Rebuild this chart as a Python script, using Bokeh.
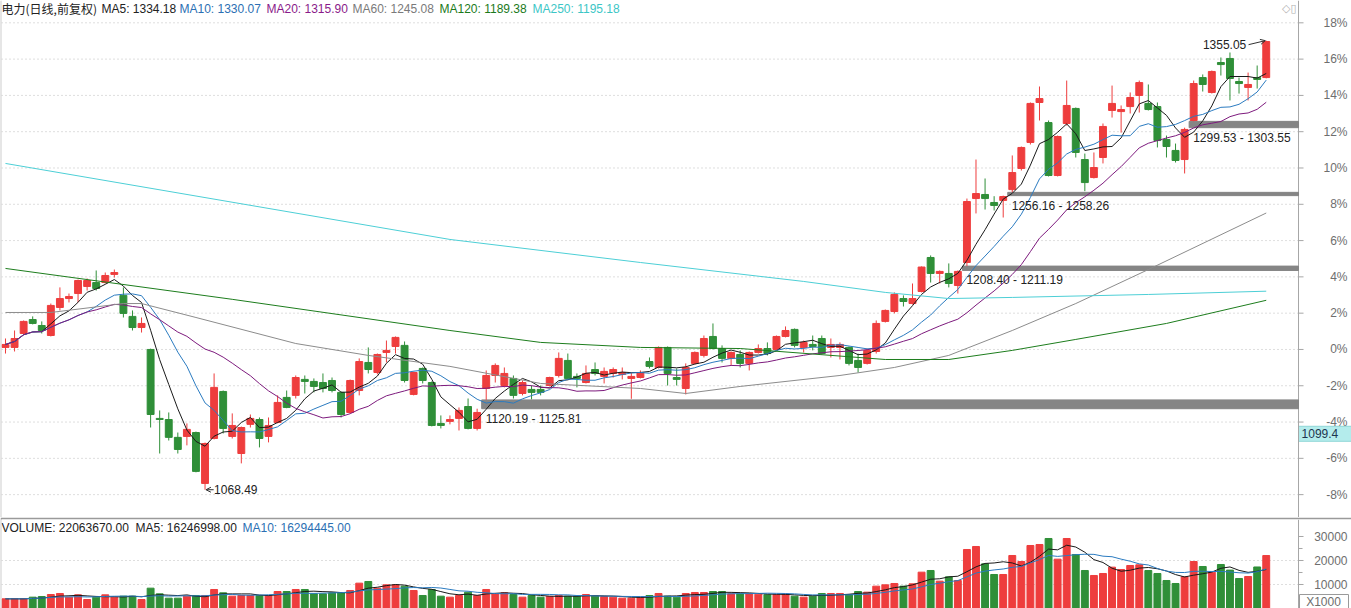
import numpy as np
import pandas as pd
from bokeh.plotting import figure
from bokeh.layouts import column
from bokeh.models import Range1d, ColumnDataSource, Arrow, OpenHead
from bokeh.embed import file_html
from bokeh.resources import INLINE
from bokeh.core.properties import value

# ---------------- data ----------------
BASE = 1158.0  # price that corresponds to 0 %

opens = [
    1159.3, 1159.3, 1168.2, 1177.1, 1173.3, 1166.9, 1184.8, 1190.5, 1193.7, 1198.2,
    1200.7, 1200.7, 1205.9, 1192.5, 1179.1, 1172.0, 1158.0, 1114.0, 1113.3, 1101.9,
    1102.5, 1105.0, 1072.5, 1101.2, 1131.2, 1102.5, 1091.6, 1110.2, 1113.3, 1102.5,
    1111.4, 1127.4, 1128.7, 1138.9, 1137.6, 1136.9, 1138.2, 1130.6, 1117.8, 1131.8,
    1149.7, 1143.3, 1156.1, 1159.9, 1160.6, 1129.3, 1145.9, 1136.9, 1110.8, 1112.1,
    1114.0, 1121.6, 1107.6, 1133.1, 1141.4, 1135.0, 1139.5, 1129.9, 1132.5, 1132.5,
    1135.0, 1141.4, 1151.0, 1140.8, 1136.9, 1145.2, 1140.8, 1142.7, 1142.1, 1139.5,
    1140.1, 1150.3, 1146.5, 1159.3, 1140.1, 1133.1, 1149.1, 1154.2, 1166.3, 1158.6,
    1152.3, 1154.8, 1149.1, 1156.1, 1158.6, 1158.0, 1166.3, 1170.8, 1159.3, 1161.2,
    1165.0, 1159.3, 1159.3, 1159.3, 1151.0, 1149.1, 1156.7, 1175.9, 1182.2, 1190.5,
    1187.3, 1195.0, 1216.7, 1206.5, 1206.5, 1198.8, 1213.5, 1254.3, 1256.9, 1251.8,
    1253.1, 1260.0, 1273.5, 1290.1, 1315.6, 1302.8, 1269.0, 1302.2, 1311.8, 1279.2,
    1267.7, 1280.5, 1310.5, 1309.8, 1313.0, 1320.1, 1315.0, 1313.0, 1292.0, 1285.0,
    1279.2, 1304.1, 1331.5, 1322.0, 1341.1, 1343.7, 1329.0, 1325.2, 1331.5, 1331.5,
]
highs = [
    1165.0, 1170.1, 1176.5, 1179.1, 1175.9, 1187.3, 1197.6, 1193.7, 1202.6, 1203.3,
    1208.4, 1207.1, 1209.0, 1197.6, 1182.9, 1178.4, 1158.5, 1119.1, 1117.8, 1105.0,
    1110.8, 1105.6, 1098.6, 1142.7, 1131.8, 1117.2, 1108.8, 1116.5, 1114.6, 1114.6,
    1128.7, 1131.8, 1141.4, 1141.4, 1139.5, 1142.7, 1140.1, 1131.2, 1138.8, 1152.3,
    1159.3, 1155.4, 1163.7, 1166.3, 1163.1, 1143.9, 1146.5, 1137.6, 1115.9, 1115.9,
    1121.0, 1126.7, 1120.19, 1144.6, 1149.1, 1146.5, 1141.4, 1138.2, 1135.0, 1135.0,
    1140.6, 1156.1, 1155.4, 1142.7, 1147.8, 1149.7, 1146.5, 1146.5, 1146.5, 1143.3,
    1144.6, 1152.9, 1159.9, 1159.9, 1145.9, 1149.1, 1156.7, 1166.9, 1174.6, 1160.6,
    1156.7, 1157.4, 1156.7, 1161.2, 1162.5, 1166.9, 1172.7, 1171.4, 1163.7, 1166.9,
    1166.9, 1165.0, 1162.5, 1159.9, 1155.4, 1158.6, 1176.5, 1183.5, 1194.4, 1192.5,
    1200.1, 1211.0, 1218.0, 1208.4, 1212.9, 1208.40, 1254.3, 1279.2, 1267.1, 1255.8,
    1256.16, 1281.8, 1287.5, 1315.6, 1325.8, 1304.1, 1294.5, 1329.6, 1312.4, 1283.0,
    1283.7, 1302.2, 1326.4, 1313.7, 1322.0, 1329.6, 1327.1, 1315.6, 1294.5, 1289.4,
    1299.53, 1329.6, 1333.5, 1336.0, 1344.3, 1347.5, 1331.5, 1334.7, 1339.2, 1355.05,
]
lows = [
    1155.4, 1156.7, 1167.6, 1174.0, 1168.2, 1166.3, 1182.9, 1188.0, 1188.0, 1195.6,
    1195.6, 1200.1, 1203.9, 1178.4, 1170.1, 1168.8, 1108.2, 1091.6, 1099.9, 1091.6,
    1096.8, 1079.6, 1068.49, 1100.6, 1104.4, 1101.2, 1085.3, 1108.2, 1095.5, 1098.7,
    1110.8, 1120.5, 1126.7, 1129.9, 1130.6, 1130.6, 1130.6, 1114.6, 1117.2, 1128.7,
    1142.7, 1142.1, 1149.7, 1155.4, 1136.9, 1128.7, 1136.3, 1108.9, 1107.6, 1110.2,
    1106.3, 1107.0, 1106.3, 1125.81, 1136.9, 1133.8, 1126.7, 1128.7, 1126.2, 1128.7,
    1134.4, 1140.1, 1138.9, 1133.8, 1136.3, 1141.4, 1136.3, 1140.1, 1138.9, 1126.5,
    1139.5, 1145.9, 1145.9, 1135.0, 1135.0, 1129.3, 1148.4, 1152.9, 1158.0, 1149.7,
    1147.8, 1146.5, 1144.6, 1155.4, 1154.2, 1157.4, 1165.7, 1159.3, 1156.1, 1157.4,
    1154.8, 1152.9, 1151.6, 1147.8, 1143.3, 1148.4, 1155.4, 1175.2, 1181.0, 1185.4,
    1186.7, 1194.4, 1200.7, 1200.1, 1197.6, 1193.7, 1211.19, 1244.8, 1247.3, 1246.7,
    1242.2, 1258.26, 1272.2, 1288.8, 1304.1, 1268.4, 1268.4, 1300.9, 1280.5, 1259.0,
    1267.1, 1276.7, 1306.0, 1296.4, 1308.6, 1309.2, 1310.5, 1286.9, 1280.5, 1277.3,
    1270.3, 1303.55, 1322.6, 1321.3, 1332.8, 1316.9, 1321.3, 1316.9, 1324.5, 1331.0,
]
closes = [
    1161.2, 1165.0, 1175.9, 1174.6, 1170.1, 1186.1, 1190.5, 1191.8, 1202.0, 1202.0,
    1196.9, 1205.2, 1207.1, 1181.0, 1172.0, 1174.6, 1116.5, 1113.3, 1101.9, 1094.2,
    1107.0, 1080.2, 1098.0, 1133.8, 1107.6, 1109.5, 1108.2, 1114.0, 1101.2, 1109.5,
    1124.2, 1121.0, 1140.1, 1137.6, 1134.4, 1133.1, 1131.8, 1116.5, 1138.2, 1150.3,
    1145.2, 1154.8, 1157.4, 1165.7, 1138.2, 1143.3, 1138.2, 1109.5, 1109.5, 1113.3,
    1119.1, 1107.6, 1117.8, 1141.4, 1147.8, 1142.7, 1128.7, 1136.9, 1130.6, 1130.6,
    1140.1, 1152.3, 1139.5, 1139.5, 1142.7, 1142.7, 1144.0, 1145.2, 1143.3, 1140.8,
    1143.3, 1147.2, 1159.3, 1142.7, 1138.9, 1146.5, 1156.1, 1165.0, 1158.6, 1152.3,
    1156.1, 1149.1, 1156.1, 1158.6, 1155.4, 1166.3, 1170.1, 1160.6, 1162.5, 1159.9,
    1155.4, 1161.2, 1161.2, 1149.1, 1146.5, 1157.4, 1174.6, 1182.9, 1193.1, 1188.6,
    1190.5, 1210.6, 1206.5, 1207.8, 1200.1, 1207.8, 1252.4, 1257.5, 1254.3, 1249.9,
    1255.6, 1270.9, 1286.9, 1315.0, 1318.1, 1269.0, 1293.9, 1313.7, 1283.7, 1264.5,
    1274.1, 1300.3, 1315.0, 1311.1, 1318.8, 1328.3, 1311.1, 1291.3, 1287.5, 1278.6,
    1298.4, 1327.7, 1327.1, 1335.4, 1339.8, 1330.9, 1327.7, 1327.1, 1330.3, 1354.5,
]
# volume in units of 1000 shares
volumes = [
    4028, 4028, 4028, 4722, 5000, 5833, 6250, 4722, 5694, 3750,
    4722, 5694, 4722, 5139, 5139, 3750, 8472, 6111, 4306, 4306,
    5139, 5417, 5417, 7917, 6528, 5139, 5417, 5417, 5417, 5417,
    7083, 7083, 7917, 7917, 6111, 6111, 6528, 6528, 7500, 10556,
    11250, 8472, 9861, 9861, 9306, 7500, 5417, 7917, 5139, 4722,
    5417, 6806, 5417, 7917, 6111, 6528, 5833, 4722, 5417, 4722,
    5000, 5417, 5139, 5139, 5833, 5139, 5000, 4722, 4306, 4306,
    4722, 5417, 6250, 5139, 4722, 6250, 6667, 6667, 7083, 7083,
    6111, 6111, 6111, 5972, 5694, 5694, 5972, 5139, 4722, 5139,
    6250, 6250, 6250, 5833, 7083, 6806, 9306, 9861, 10417, 9306,
    10278, 15140, 15835, 11390, 13196, 11668, 24585, 25835, 18613, 14168,
    14168, 22085, 19585, 26252, 26669, 29169, 20557, 29169, 22502, 15835,
    13751, 14585, 17224, 16251, 17918, 18196, 15835, 14585, 11668, 10418,
    13196, 19585, 17501, 15140, 18335, 16000, 12501, 13334, 17300, 22064,
]

# long moving averages (candle index, price)
ma60_idx = [0, 5, 13, 15, 21, 32, 40, 49, 59, 70, 75, 81, 92, 98, 104, 111, 118, 126, 139]
ma60_val = [1181.6, 1181.6, 1187.3, 1187.3, 1178.4, 1161.8, 1154.2, 1147.2, 1136.3, 1133.1,
            1129.9, 1134.4, 1141.4, 1146.5, 1154.2, 1170.1, 1187.3, 1209.0, 1245.08]
ma120_idx = [0, 25, 49, 59, 70, 81, 97, 104, 111, 118, 128, 139]
ma120_val = [1209.7, 1190.0, 1170.1, 1162.5, 1159.3, 1158.6, 1151.6, 1151.6, 1157.4, 1164.4,
             1174.6, 1189.38]
ma250_idx = [0, 49, 70, 88, 97, 104, 111, 126, 139]
ma250_val = [1276.7, 1228.2, 1213.5, 1201.4, 1194.4, 1190.5, 1191.2, 1193.1, 1195.18]

# unfilled gaps: candle index that opened the gap, lower and upper price
gap_idx = [53, 106, 111, 131]
gap_low = [1120.19, 1208.40, 1256.16, 1299.53]
gap_high = [1125.81, 1211.19, 1258.26, 1303.55]

title_text = "电力(日线,前复权)"
ma_names = ["MA5", "MA10", "MA20", "MA60", "MA120", "MA250"]
ma_last = [1334.18, 1330.07, 1315.90, 1245.08, 1189.38, 1195.18]
vol_names = ["VOLUME", "MA5", "MA10"]
vol_last = [22063670.00, 16246998.00, 16294445.00]
pct_ticks = [-8, -6, -4, -2, 0, 2, 4, 6, 8, 10, 12, 14, 16, 18]
vol_ticks = [10000, 20000, 30000]
vol_minor = [15000, 25000]
vol_grid = [10000, 20000]
cursor_price = 1099.4

# ---------------- styling / layout ----------------
RED = "#ee3d3d"
GREEN = "#2f8f38"
MA_COLORS = ["#1a1a1a", "#2b7bc0", "#7d1a7d", "#8c8c8c", "#1d7d1d", "#4dcfd6"]
LEG_COLORS = ["#222222", "#2b6fb3", "#8a1a8a", "#7a7a7a", "#1b7a1b", "#3cc6c6"]
AXIS_C = "#a6a6a6"
LAB_C = "#6e6e6e"
FONT = "Liberation Sans"
FW, PH, VH = 1350, 517, 89
X0, X1, XR = -0.44, 142.56, 148.4     # left edge, axis line, right edge (candle index units)
Y0, Y1 = -9.26, 19.23                 # price panel in percent
VMAX = 37083
PXX = (XR - X0) / FW                  # one pixel in x data units
PXY = (Y1 - Y0) / PH                  # one pixel in percent units
PXV = VMAX / VH                       # one pixel in volume units


def pct(v):
    return (np.asarray(v, dtype=float) / BASE - 1.0) * 100.0


n = len(closes)
idx = np.arange(n)
o = np.array(opens); c = np.array(closes)
colors = [RED if cc >= oo else GREEN for oo, cc in zip(opens, closes)]

src = ColumnDataSource(dict(
    x=idx, top=pct(np.maximum(o, c)), bottom=pct(np.minimum(o, c)),
    hi=pct(highs), lo=pct(lows), color=colors, vol=volumes,
))


def base_fig(h, yr, top_border=0):
    f = figure(frame_width=FW, frame_height=h, x_range=Range1d(X0, XR), y_range=yr,
               x_axis_location=None, y_axis_location=None, output_backend="svg",
               toolbar_location=None, min_border_left=1, min_border_right=0,
               min_border_top=top_border, min_border_bottom=0)
    f.outline_line_color = None
    f.border_fill_color = "#9a9a9a"
    f.background_fill_color = "white"
    f.xgrid.visible = False
    f.ygrid.visible = False
    return f


def draw_axis(f, ticks, labels, minors, y_lo, y_hi):
    f.segment(x0=[X1], y0=[y_lo], x1=[X1], y1=[y_hi], line_color=AXIS_C, line_width=1)
    f.segment(x0=[X1] * len(ticks), y0=ticks, x1=[X1 + 5 * PXX] * len(ticks), y1=ticks,
              line_color=AXIS_C, line_width=1)
    if minors:
        f.segment(x0=[X1] * len(minors), y0=minors, x1=[X1 + 4 * PXX] * len(minors), y1=minors,
                  line_color=AXIS_C, line_width=1)
    f.text(x=[XR - 4 * PXX] * len(ticks), y=ticks, text=labels, text_align="right",
           text_baseline="middle", text_color=LAB_C, text_font=value(FONT),
           text_font_size="12px")


def draw_grid(f, levels):
    f.segment(x0=[X0] * len(levels), y0=levels, x1=[X1] * len(levels), y1=levels,
              line_color="#bdbdbd", line_width=1, line_dash="1 3")


# ---------------- price panel ----------------
p = base_fig(PH, Range1d(Y0, Y1))
draw_grid(p, pct_ticks)

# cursor price tag on the axis (under the tick labels)
cy = float(pct(cursor_price))
p.quad(left=[X1], right=[XR], bottom=[cy], top=[cy + 15 * PXY],
       fill_color="#b4ecec", line_color="#8fd6d6")
p.text(x=[X1 + 3 * PXX], y=[cy + 7.5 * PXY], text=[f"{cursor_price}"], text_baseline="middle",
       text_color="#1d3550", text_font=value(FONT), text_font_size="12px")

draw_axis(p, pct_ticks, [f"{t}%" for t in pct_ticks], [], Y0, Y1)

# gap bands
band_src = ColumnDataSource(dict(
    left=[g - 0.5 for g in gap_idx], right=[X1] * len(gap_idx),
    bottom=pct(gap_low), top=pct(gap_high),
    text=[f"{a:.2f} - {b:.2f}" for a, b in zip(gap_low, gap_high)],
))
p.quad(left="left", right="right", bottom="bottom", top="top", source=band_src,
       fill_color="#858585", line_color="#858585", line_width=1)

# candles
p.segment(x0="x", y0="lo", x1="x", y1="hi", source=src, line_color="color", line_width=1)
p.vbar(x="x", top="top", bottom="bottom", width=0.76, source=src,
       fill_color="color", line_color="color", line_width=1)

# moving averages
close_s = pd.Series(closes)
for k, w in enumerate([5, 10, 20]):
    ma = close_s.rolling(w, min_periods=1).mean().values
    p.line(idx, pct(ma), line_color=MA_COLORS[k], line_width=1)
p.line(ma60_idx, pct(ma60_val), line_color=MA_COLORS[3], line_width=1)
p.line(ma120_idx, pct(ma120_val), line_color=MA_COLORS[4], line_width=1)
p.line(ma250_idx, pct(ma250_val), line_color=MA_COLORS[5], line_width=1)

# gap labels
p.text(x="left", y="bottom", text="text", source=band_src, x_offset=4, y_offset=3,
       text_baseline="top", text_align="left", text_color="#222222",
       text_font=value(FONT), text_font_size="12px")

# high / low markers
lo_i = int(np.argmin(lows)); hi_i = int(np.argmax(highs))
lo_y = float(pct(lows[lo_i])); hi_y = float(pct(highs[hi_i]))
p.add_layout(Arrow(x_start=lo_i + 0.95, y_start=lo_y, x_end=lo_i + 0.1, y_end=lo_y,
                   line_color="#333333", line_width=1,
                   end=OpenHead(size=5, line_color="#333333", line_width=1)))
p.text(x=[lo_i + 1.0], y=[lo_y], text=[f"{lows[lo_i]:.2f}"], text_baseline="middle",
       text_align="left", text_color="#222222", text_font=value(FONT), text_font_size="12px")
p.add_layout(Arrow(x_start=hi_i - 1.95, y_start=hi_y - 4 * PXY, x_end=hi_i - 0.1, y_end=hi_y,
                   line_color="#333333", line_width=1,
                   end=OpenHead(size=5, line_color="#333333", line_width=1)))
p.text(x=[hi_i - 2.2], y=[hi_y - 4 * PXY], text=[f"{highs[hi_i]:.2f}"], text_baseline="middle",
       text_align="right", text_color="#222222", text_font=value(FONT), text_font_size="12px")

# legend row
p.text(x=[X0 + 0 * PXX], y=[Y1 - 8 * PXY], text=[title_text], text_baseline="middle",
       text_color="#222222", text_font=value("Noto Sans CJK SC"), text_font_size="12px")
leg_x = [100, 178, 265, 351, 438, 531]
p.text(x=[X0 + lx * PXX for lx in leg_x], y=[Y1 - 8 * PXY] * len(leg_x),
       text=[f"{nm}: {vl:.2f}" for nm, vl in zip(ma_names, ma_last)],
       text_color=LEG_COLORS, text_baseline="middle", text_font=value(FONT),
       text_font_size="12px")
p.text(x=[X1 - 2 * PXX], y=[Y1 - 8 * PXY], text=["◇▯"], text_align="right",
       text_baseline="middle", text_color="#b0b0b0", text_font=value("DejaVu Sans"),
       text_font_size="11px")

# ---------------- volume panel ----------------
v = base_fig(VH, Range1d(0, VMAX), top_border=2)
v.x_range = p.x_range
draw_grid(v, vol_grid)
draw_axis(v, vol_ticks, [str(t) for t in vol_ticks], vol_minor, 0, VMAX)

v.vbar(x="x", top="vol", bottom=0, width=0.76, source=src, fill_color="color", line_color="color")
vol_s = pd.Series(volumes)
v.line(idx, vol_s.rolling(5, min_periods=1).mean().values, line_color="#1a1a1a", line_width=1)
v.line(idx, vol_s.rolling(10, min_periods=1).mean().values, line_color="#2b7bc0", line_width=1)

vleg_x = [0, 134, 241]
vleg_c = ["#222222", "#222222", "#2b6fb3"]
v.text(x=[X0 + lx * PXX for lx in vleg_x], y=[VMAX - 8 * PXV] * 3,
       text=[f"{nm}: {vl:.2f}" for nm, vl in zip(vol_names, vol_last)],
       text_color=vleg_c, text_baseline="middle", text_font=value(FONT),
       text_font_size="12px")
v.quad(left=[X1 + 1 * PXX], right=[XR - 3 * PXX], bottom=[0], top=[14 * PXV],
       fill_color="white", line_color="#9a9a9a")
v.text(x=[X1 + 25 * PXX], y=[7 * PXV], text=["X1000"], text_align="center",
       text_baseline="middle", text_color=LAB_C, text_font=value(FONT), text_font_size="12px")

layout = column(p, v, spacing=0)
open("out.html", "w").write(file_html(layout, INLINE))
